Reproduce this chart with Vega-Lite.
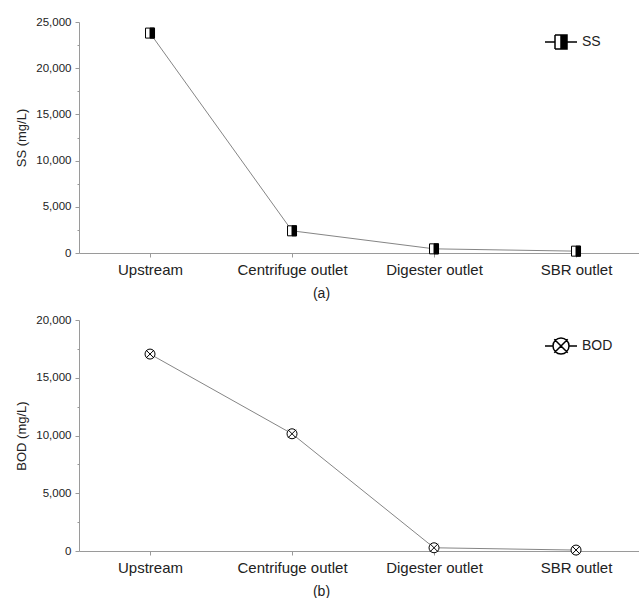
{
  "$schema": "https://vega.github.io/schema/vega-lite/v6.json",
  "padding": {"left": 15, "top": 16, "right": 0, "bottom": 0},
  "background": "white",
  "datasets": {
    "ss": [
      {"site": "Upstream", "SS": 23800},
      {"site": "Centrifuge outlet", "SS": 2400},
      {"site": "Digester outlet", "SS": 450},
      {"site": "SBR outlet", "SS": 200}
    ],
    "bod": [
      {"site": "Upstream", "BOD": 17050},
      {"site": "Centrifuge outlet", "BOD": 10150},
      {"site": "Digester outlet", "BOD": 280},
      {"site": "SBR outlet", "BOD": 80}
    ]
  },
  "spacing": 14,
  "resolve": {"scale": {"color": "independent"}, "legend": {"color": "independent"}},
  "vconcat": [
    {
      "width": 560,
      "height": 231,
      "data": {"name": "ss"},
      "encoding": {
        "x": {
          "field": "site", "type": "nominal", "sort": null,
          "scale": {"type": "point", "padding": 0.4718, "align": 0.53},
          "axis": {"title": "(a)", "titleX": 242, "labelAngle": 0}
        },
        "y": {
          "field": "SS", "type": "quantitative",
          "scale": {"domain": [0, 25000], "nice": false},
          "axis": {
            "title": "SS (mg/L)",
            "values": [0, 2500, 5000, 7500, 10000, 12500, 15000, 17500, 20000, 22500, 25000],
            "labelExpr": "datum.value % 5000 === 0 ? format(datum.value, ',') : ''",
            "tickSize": {"condition": {"test": "datum.value % 5000 === 0", "value": 4}, "value": 2}
          }
        }
      },
      "layer": [
        {"mark": {"type": "line", "color": "#858585", "strokeWidth": 1}},
        {"mark": {"type": "point", "shape": "M-0.45,-0.5L0.45,-0.5L0.45,0.5L-0.45,0.5Z", "size": 400, "filled": true, "fill": "white", "stroke": "black", "strokeWidth": 1, "opacity": 1}},
        {
          "mark": {"type": "point", "shape": "M0,-0.5L0.45,-0.5L0.45,0.5L0,0.5Z", "size": 400, "filled": true, "stroke": "black", "strokeWidth": 1, "opacity": 1},
          "encoding": {
            "color": {
              "datum": "SS", "type": "nominal",
              "scale": {"range": ["black"]},
              "legend": {
                "title": null, "orient": "none", "legendX": 465, "legendY": 3, "padding": 0,
                "symbolType": "M-1,0L-0.375,0M0.375,0L1,0M0,-0.44L-0.375,-0.44M-0.375,-0.44L-0.375,0.44M-0.375,0.44L0,0.44M0,-0.44L0.375,-0.44L0.375,0.44L0,0.44Z",
                "symbolSize": 1024, "labelFontSize": 14, "labelColor": "#222", "labelOffset": 4,
                "encode": {"symbols": {"update": {"fill": {"value": "black"}, "stroke": {"value": "black"}, "strokeWidth": {"value": 1}, "opacity": {"value": 1}}}}
              }
            }
          }
        }
      ]
    },
    {
      "width": 560,
      "height": 231,
      "data": {"name": "bod"},
      "encoding": {
        "x": {
          "field": "site", "type": "nominal", "sort": null,
          "scale": {"type": "point", "padding": 0.4718, "align": 0.53},
          "axis": {"title": "(b)", "titleX": 242, "labelAngle": 0}
        },
        "y": {
          "field": "BOD", "type": "quantitative",
          "scale": {"domain": [0, 20000], "nice": false},
          "axis": {
            "title": "BOD (mg/L)",
            "values": [0, 2500, 5000, 7500, 10000, 12500, 15000, 17500, 20000],
            "labelExpr": "datum.value % 5000 === 0 ? format(datum.value, ',') : ''",
            "tickSize": {"condition": {"test": "datum.value % 5000 === 0", "value": 4}, "value": 2}
          }
        }
      },
      "layer": [
        {"mark": {"type": "line", "color": "#858585", "strokeWidth": 1}},
        {"mark": {"type": "point", "shape": "M-0.5,0A0.5,0.5 0 1,1 0.5,0A0.5,0.5 0 1,1 -0.5,0Z", "size": 400, "filled": true, "fill": "white", "strokeWidth": 0, "opacity": 1}},
        {
          "mark": {"type": "point", "shape": "M-0.5,0A0.5,0.5 0 1,1 0.5,0A0.5,0.5 0 1,1 -0.5,0M-0.4,-0.4L0.4,0.4M0.4,-0.4L-0.4,0.4", "size": 400, "filled": false, "strokeWidth": 1, "opacity": 1},
          "encoding": {
            "color": {
              "datum": "BOD", "type": "nominal",
              "scale": {"range": ["black"]},
              "legend": {
                "title": null, "orient": "none", "legendX": 465, "legendY": 9, "padding": 0,
                "symbolType": "M-1,0L-0.5,0M0.5,0L1,0M-0.5,0A0.5,0.5 0 1,1 0.5,0A0.5,0.5 0 1,1 -0.5,0M-0.42,-0.42L0.42,0.42M0.42,-0.42L-0.42,0.42",
                "symbolSize": 1024, "labelFontSize": 14, "labelColor": "#222", "labelOffset": 4,
                "encode": {"symbols": {"update": {"fill": {"value": "transparent"}, "stroke": {"value": "black"}, "strokeWidth": {"value": 1}, "opacity": {"value": 1}}}}
              }
            }
          }
        }
      ]
    }
  ],
  "config": {
    "view": {"stroke": null},
    "font": "Liberation Sans",
    "axis": {
      "domainColor": "#9a9a9a", "tickColor": "#9a9a9a", "labelColor": "#222", "titleColor": "#222",
      "titleFontWeight": "normal", "grid": false, "labelFont": "Liberation Sans", "titleFont": "Liberation Sans"
    },
    "axisY": {"labelFontSize": 11.5, "titleFontSize": 13, "tickSize": 4, "labelPadding": 4, "titlePadding": 7},
    "axisX": {"labelFontSize": 15, "titleFontSize": 14, "tickSize": 4, "labelPadding": 5, "titlePadding": 9}
  }
}
